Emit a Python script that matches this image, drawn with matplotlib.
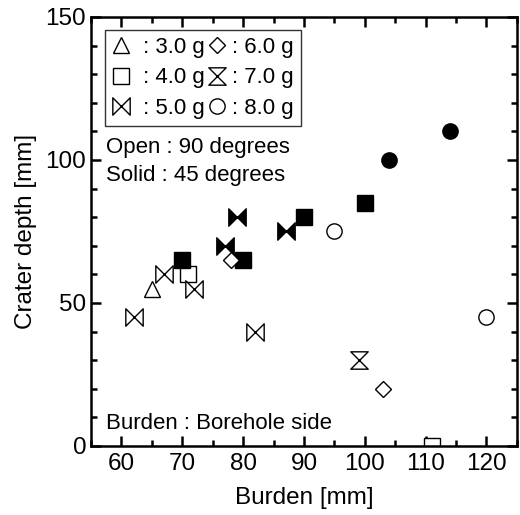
import numpy as np
import matplotlib.pyplot as plt
from matplotlib.path import Path
from matplotlib.lines import Line2D

plt.rcParams['font.family'] = ['Liberation Sans', 'DejaVu Sans']

# data: burden [mm], crater depth [mm]; open = 90 deg, solid = 45 deg
x_3g = [65]
y_3g = [55]
x_4g_open = [71, 111]
y_4g_open = [60, 0]
x_4g_solid = [70, 80, 90, 100]
y_4g_solid = [65, 65, 80, 85]
x_5g_open = [62, 67, 72, 82]
y_5g_open = [45, 60, 55, 40]
x_5g_solid = [77, 79, 87]
y_5g_solid = [70, 80, 75]
x_6g = [78, 103]
y_6g = [65, 20]
x_7g = [99]
y_7g = [30]
x_8g_open = [95, 120]
y_8g_open = [75, 45]
x_8g_solid = [104, 114]
y_8g_solid = [100, 110]

# custom markers
bowtie = Path([(-1, 1), (1, -1), (1, 1), (-1, -1), (-1, 1)],
              [Path.MOVETO, Path.LINETO, Path.LINETO, Path.LINETO, Path.CLOSEPOLY])
hourglass = Path([(-1, 1), (1, 1), (-1, -1), (1, -1), (-1, 1)],
                 [Path.MOVETO, Path.LINETO, Path.LINETO, Path.LINETO, Path.CLOSEPOLY])

fig = plt.figure(figsize=(5.2, 5.15), dpi=100)
ax = fig.add_axes([0.175, 0.134, 0.819, 0.833])

ms = 11
op = dict(linestyle='none', mfc='white', mec='black', mew=1.0, ms=ms)
so = dict(linestyle='none', mfc='black', mec='black', mew=1.0, ms=ms)

ax.plot(x_3g, y_3g, marker='^', **op)
ax.plot(x_4g_open, y_4g_open, marker='s', **op)
ax.plot(x_4g_solid, y_4g_solid, marker='s', **so)
ax.plot(x_5g_open, y_5g_open, marker=bowtie, **dict(op, ms=12.5))
ax.plot(x_5g_solid, y_5g_solid, marker=bowtie, **dict(so, ms=12.5))
ax.plot(x_6g, y_6g, marker='D', **dict(op, ms=8))
ax.plot(x_7g, y_7g, marker=hourglass, **dict(op, ms=12.5))
ax.plot(x_8g_open, y_8g_open, marker='o', **op)
ax.plot(x_8g_solid, y_8g_solid, marker='o', **so)

ax.set_xlim(55, 125)
ax.set_ylim(0, 150)
ax.set_xticks(np.arange(60, 121, 10))
ax.set_xticks(np.arange(55, 126, 5), minor=True)
ax.set_yticks([0, 50, 100, 150])
ax.set_yticks(np.arange(0, 151, 10), minor=True)
ax.tick_params(which='both', direction='in', top=True, right=True, width=1.8, labelsize=17.5)
ax.tick_params(which='major', length=7)
ax.tick_params(which='minor', length=4)
ax.tick_params(axis='x', pad=5)
for s in ax.spines.values():
    s.set_linewidth(1.8)

ax.set_xlabel('Burden [mm]', fontsize=17.5, labelpad=9)
ax.set_ylabel('Crater depth [mm]', fontsize=17.5, labelpad=6)

handles = [
    Line2D([], [], marker='^', **op),
    Line2D([], [], marker='s', **op),
    Line2D([], [], marker=bowtie, **dict(op, ms=12.5)),
    Line2D([], [], marker='D', **dict(op, ms=8)),
    Line2D([], [], marker=hourglass, **dict(op, ms=12.5)),
    Line2D([], [], marker='o', **op),
]
labels = [' : 3.0 g', ' : 4.0 g', ' : 5.0 g', ': 6.0 g', ': 7.0 g', ': 8.0 g']
leg = ax.legend(handles, labels, ncol=2, loc='upper left', bbox_to_anchor=(0.033, 0.97),
                fontsize=16, frameon=True, fancybox=False, edgecolor='black',
                handlelength=0.8, handletextpad=0.3, columnspacing=0.15,
                labelspacing=0.42, borderpad=0.32, borderaxespad=0)
leg.get_frame().set_linewidth(1.0)

ax.text(57.5, 102.4, 'Open : 90 degrees', fontsize=16, va='baseline')
ax.text(57.5, 92.7, 'Solid : 45 degrees', fontsize=16, va='baseline')
ax.text(57.5, 5.9, 'Burden : Borehole side', fontsize=16, va='baseline')

fig.savefig('out.png', dpi=100)
